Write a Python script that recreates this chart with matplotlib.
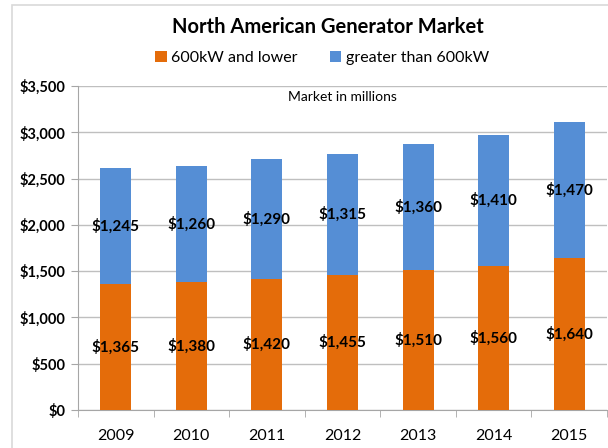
import matplotlib.pyplot as plt
import numpy as np
from matplotlib.patches import Rectangle

plt.rcParams['font.family'] = ['Lato', 'DejaVu Sans']

years = ['2009', '2010', '2011', '2012', '2013', '2014', '2015']
lower = [1365, 1380, 1420, 1455, 1510, 1560, 1640]
greater = [1245, 1260, 1290, 1315, 1360, 1410, 1470]
yticks = [0, 500, 1000, 1500, 2000, 2500, 3000, 3500]

orange = '#E46C0A'
blue = '#558ED5'
grid = '#BFBFBF'

fig = plt.figure(figsize=(6.08, 4.48), dpi=100)
# chart frame
fig.patches.append(Rectangle((12 / 608, -0.1), 1.2, 443 / 448 + 0.1,
                             transform=fig.transFigure, fill=False,
                             edgecolor='#D9D9D9', linewidth=1.2))
ax = fig.add_axes([78 / 608, 38 / 448, 529 / 608, 324 / 448])

x = np.arange(len(years))
w = 0.41
ax.bar(x, lower, w, color=orange, label='600kW and lower', zorder=3)
ax.bar(x, greater, w, bottom=lower, color=blue, label='greater than 600kW', zorder=3)

for i in range(len(years)):
    ax.text(x[i], lower[i] / 2, '${:,}'.format(lower[i]), ha='center', va='center',
            fontsize=11, fontweight='bold', zorder=4)
    ax.text(x[i], lower[i] + greater[i] / 2, '${:,}'.format(greater[i]), ha='center',
            va='center', fontsize=11, fontweight='bold', zorder=4)

ax.set_xlim(-0.5, len(years) - 0.5)
ax.set_ylim(0, 3500)
ax.set_yticks(yticks)
ax.set_yticklabels(['${:,}'.format(v) for v in yticks], fontweight='bold', fontsize=10.5)
ax.set_xticks(x)
ax.set_xticklabels(years, fontsize=11.5)
ax.set_xticks(np.arange(-0.5, len(years)), minor=True)
ax.tick_params(axis='x', which='major', length=0, pad=14)
ax.tick_params(axis='x', which='minor', length=5, color='#A6A6A6')
ax.tick_params(axis='y', length=5, color='#A6A6A6', pad=4)
ax.yaxis.grid(True, color=grid, linewidth=1, zorder=0)
for s in ['top', 'right']:
    ax.spines[s].set_visible(False)
for s in ['left', 'bottom']:
    ax.spines[s].set_color('#A6A6A6')

ax.text(0.5, 0.965, 'Market in millions', transform=ax.transAxes, ha='center',
        va='center', fontsize=10)

fig.text(0.54, 421 / 448, 'North American Generator Market', ha='center', va='center',
         fontsize=14.5, fontweight='bold')
fig.legend(loc='center', bbox_to_anchor=(0.53, 390 / 448), ncol=2, frameon=False,
           fontsize=11.5, handlelength=0.7, handleheight=0.7, handletextpad=0.3,
           columnspacing=2.0)

fig.savefig('out.png', dpi=100)
